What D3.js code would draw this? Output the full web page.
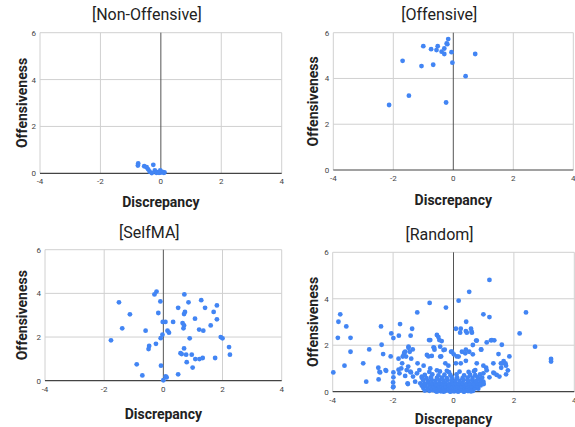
<!DOCTYPE html>
<html>
<head>
<meta charset="utf-8">
<script src="https://cdn.jsdelivr.net/npm/d3@7"></script>
<style>
  body { margin: 0; background: #fff; }
  svg { display: block; font-family: Roboto, "Noto Sans", sans-serif; }
</style>
</head>
<body>
<svg id="chart" width="575" height="427"></svg>
<script>
// data: [discrepancy, offensiveness] pairs
const panelTitles = ['[Non-Offensive]', '[Offensive]', '[SelfMA]', '[Random]'];
const xTicks = [-4, -2, 0, 2, 4];
const yTicks = [0, 2, 4, 6];

const nonOffensive = [
  [-0.75, 0.42], [-0.76, 0.33], [-0.55, 0.3], [-0.47, 0.26], [-0.42, 0.17],
  [-0.37, 0.07], [-0.25, 0.36], [-0.2, 0.12], [-0.12, 0.05], [0, 0.03],
  [0.05, 0.06], [0.1, 0.02], [-0.15, 0.02], [-0.3, 0.01], [-0.02, 0.12],
  [0.12, 0.04], [-0.06, 0.02]
];

const offensive = [
  [-0.17, 5.72], [-0.22, 5.53], [-0.52, 5.41], [-1.0, 5.41], [-0.74, 5.28],
  [-0.56, 5.24], [-0.3, 5.31], [-0.39, 5.17], [-0.3, 5.07], [-0.06, 5.15],
  [0.73, 5.07], [-1.69, 4.77], [-0.03, 4.69], [-0.67, 4.6], [-1.06, 4.54],
  [0.41, 4.1], [-1.48, 3.25], [-0.24, 2.95], [-2.14, 2.84], [-0.2, 5.5]
];

const selfMA = [
  [-0.23, 4.08], [-0.3, 3.95], [0.71, 3.95], [-1.5, 3.59], [-0.1, 3.63],
  [1.28, 3.69], [0.85, 3.59], [1.81, 3.45], [0.5, 3.34], [1.41, 3.34],
  [1.7, 3.15], [0.73, 3.15], [0.7, 3.05], [-1.13, 3.04], [-0.17, 3.1],
  [1.81, 2.81], [1.07, 2.84], [-0.02, 2.69], [0.07, 2.69], [0.33, 2.69],
  [0.65, 2.64], [0.7, 2.53], [1.6, 2.53], [-1.39, 2.4], [0.68, 2.4],
  [1.21, 2.34], [1.35, 2.29], [-0.6, 2.29], [0.14, 2.29], [0.19, 2.2],
  [-0.03, 2.11], [-0.09, 1.95], [0.89, 1.94], [1.94, 2.0], [2.0, 1.94],
  [-1.77, 1.85], [-0.25, 1.69], [-0.48, 1.59], [-0.5, 1.45], [0.7, 1.48],
  [2.22, 1.54], [0.62, 1.22], [0.58, 1.26], [0.77, 1.19], [0.96, 1.19],
  [2.25, 1.19], [1.08, 0.99], [1.22, 0.99], [1.33, 1.04], [1.75, 1.04],
  [0.79, 0.85], [-0.9, 0.75], [-0.08, 0.69], [0.99, 0.6], [-0.71, 0.24],
  [0.5, 0.29], [0.08, 0.2], [0.11, 0.15], [0.0, 0.02]
];

const random = [
  // spread points
  [1.19, 4.81], [0.52, 4.3], [0.17, 3.92], [-0.79, 3.82], [-0.25, 3.62],
  [-1.2, 3.41], [2.4, 3.41], [-3.75, 3.33], [0.99, 3.33], [1.19, 3.21],
  [-3.81, 3.01], [0.42, 3.01], [-1.77, 2.91], [-3.55, 2.81], [-2.4, 2.81],
  [-1.37, 2.71], [0.08, 2.71], [0.24, 2.71], [0.58, 2.71], [0.6, 2.58],
  [0.41, 2.61], [-2.06, 2.51], [2.19, 2.51], [-1.81, 2.41], [-1.42, 2.41],
  [-0.55, 2.44], [-0.5, 2.35], [-0.47, 2.22], [-0.39, 2.18], [-3.83, 2.32],
  [-3.41, 2.32], [-1.99, 2.31], [-0.81, 2.22], [0.77, 2.2], [1.24, 2.21],
  [1.35, 2.21], [1.1, 2.12], [-2.38, 2.02], [1.6, 2.02], [-1.49, 1.89],
  [-2.79, 1.82], [-1.35, 1.82], [-0.64, 1.89], [-0.63, 1.81], [-0.29, 1.81],
  [0.41, 1.81], [0.52, 1.72], [0.64, 1.61], [0.92, 1.81], [-3.41, 1.72],
  [-1.6, 1.72], [-1.45, 1.72], [-0.08, 1.72], [0.01, 1.61], [-2.33, 1.62],
  [-1.64, 1.61], [1.49, 1.62], [1.85, 1.52], [-2.08, 1.52], [-0.83, 1.52],
  [-0.41, 1.52], [0.11, 1.52], [-1.68, 1.51], [-1.4, 1.42], [-1.82, 1.42],
  [0.41, 1.33], [1.66, 1.32], [1.57, 1.22], [1.72, 1.22], [1.32, 1.22],
  [0.77, 1.22], [-2.99, 1.22], [-1.19, 1.22], [-0.17, 1.12], [-3.61, 1.12],
  [0.08, 1.22], [0.24, 1.22], [-2.49, 1.03], [1.08, 1.03], [1.74, 1.12],
  [1.58, 1.03], [-0.99, 1.12], [-2.45, 0.85], [1.8, 0.92], [-3.98, 0.83],
  [-2.25, 0.93], [-1.99, 0.83], [-1.82, 0.95], [-1.55, 0.93], [-1.41, 0.83],
  [1.35, 0.79], [1.74, 0.75], [1.1, 0.92], [0.72, 0.93], [-1.99, 0.62],
  [-2.48, 0.53], [-2.89, 0.43], [-1.51, 0.33], [-1.99, 0.22], [0.99, 0.43],
  [1.43, 0.72], [-0.55, 0.92], [-0.77, 1.0], [2.7, 1.94], [3.23, 1.41],
  [3.23, 1.3], [0.22, 2.54], [0.44, 2.54], [0.61, 2.54], [0.75, 2.2],
  [1.27, 2.22], [0.64, 2.01], [0.91, 1.82], [1.62, 1.22], [0.99, 1.12],
  [0.39, 1.65], [0.17, 1.51], [0.28, 1.72], [-0.05, 1.72], [1.52, 0.65],
  [1.32, 0.82], [1.19, 0.62], [0.99, 0.79], [-1.63, 1.68], [-1.49, 1.94],
  [-1.57, 1.51], [-1.7, 1.22], [-1.73, 1.0], [-1.5, 1.08], [-1.79, 0.79],
  [-1.6, 0.68], [-1.43, 0.86], [-1.52, 0.36], [-1.34, 0.65], [-1.27, 0.43],
  [-1.13, 0.93], [-1.21, 0.79], [-1.05, 0.65], [-1.01, 0.29], [-0.88, 1.58],
  [-0.77, 2.22], [-0.44, 1.94], [-0.66, 1.91], [-0.72, 1.54], [-0.44, 1.51],
  [-0.33, 1.79], [-0.27, 1.22], [-0.22, 0.9], [-2.43, 0.83], [-2.23, 0.9],
  [-2.0, 0.4], [-2.0, 0.19],
  // dense cluster near the origin
  [-0.95, 0.05], [-0.8, 0.04], [-0.7, 0.07], [-0.6, 0.03], [-0.5, 0.06],
  [-0.42, 0.02], [-0.35, 0.05], [-0.28, 0.03], [-0.2, 0.06], [-0.12, 0.02],
  [-0.05, 0.04], [0.02, 0.01], [0.1, 0.05], [0.18, 0.03], [0.25, 0.06],
  [0.33, 0.02], [0.4, 0.05], [0.48, 0.03], [0.55, 0.07], [0.65, 0.04],
  [-1.0, 0.16], [-0.85, 0.13], [-0.72, 0.17], [-0.62, 0.14], [-0.53, 0.16],
  [-0.45, 0.12], [-0.37, 0.17], [-0.3, 0.14], [-0.22, 0.15], [-0.15, 0.12],
  [-0.08, 0.16], [0.0, 0.13], [0.07, 0.17], [0.14, 0.12], [0.22, 0.15],
  [0.3, 0.14], [0.38, 0.17], [0.46, 0.13], [0.55, 0.16], [0.63, 0.12],
  [0.72, 0.15], [0.82, 0.13], [-1.05, 0.26], [-0.92, 0.24], [-0.78, 0.27],
  [-0.66, 0.23], [-0.57, 0.26], [-0.48, 0.24], [-0.4, 0.27], [-0.32, 0.22],
  [-0.25, 0.25], [-0.17, 0.27], [-0.1, 0.23], [-0.02, 0.26], [0.05, 0.24],
  [0.12, 0.27], [0.2, 0.23], [0.28, 0.25], [0.36, 0.27], [0.44, 0.24],
  [0.52, 0.26], [0.6, 0.23], [0.7, 0.26], [0.8, 0.24], [0.9, 0.27],
  [-1.1, 0.36], [-0.95, 0.34], [-0.82, 0.37], [-0.7, 0.35], [-0.58, 0.33],
  [-0.47, 0.37], [-0.36, 0.34], [-0.26, 0.36], [-0.14, 0.33], [-0.04, 0.37],
  [0.08, 0.35], [0.18, 0.34], [0.3, 0.37], [0.42, 0.33], [0.54, 0.36],
  [0.66, 0.34], [0.78, 0.37], [0.9, 0.35], [1.0, 0.33], [-1.0, 0.48],
  [-0.85, 0.46], [-0.72, 0.5], [-0.6, 0.47], [-0.46, 0.49], [-0.33, 0.46],
  [-0.2, 0.5], [-0.07, 0.47], [0.06, 0.49], [0.2, 0.46], [0.34, 0.5],
  [0.48, 0.47], [0.62, 0.49], [0.75, 0.46], [0.88, 0.5], [-1.05, 0.6],
  [-0.9, 0.58], [-0.75, 0.62], [-0.55, 0.59], [-0.38, 0.61], [-0.22, 0.58],
  [-0.05, 0.62], [0.12, 0.6], [0.3, 0.58], [0.47, 0.61], [0.63, 0.59],
  [0.8, 0.62], [0.95, 0.6], [-0.95, 0.72], [-0.7, 0.74], [-0.5, 0.7],
  [-0.3, 0.73], [-0.1, 0.71], [0.1, 0.74], [0.35, 0.7], [0.55, 0.73],
  [0.72, 0.71], [0.88, 0.74], [-0.8, 0.85], [-0.45, 0.87], [-0.15, 0.84],
  [0.2, 0.86], [0.5, 0.85], [0.68, 0.88], [-0.33, 0.0], [-0.1, 0.0],
  [0.15, 0.0], [0.35, 0.0], [-0.55, 0.0], [0.58, 0.01]
];

const panels = [
  {title: panelTitles[0], data: nonOffensive, x0: 40, x1: 281.7, y0: 173.3, y1: 32.7,
   titleY: 20, xLabelY: 207, yLabelX: 22},
  {title: panelTitles[1], data: offensive, x0: 333.3, x1: 573.3, y0: 170, y1: 32.7,
   titleY: 20, xLabelY: 205, yLabelX: 313},
  {title: panelTitles[2], data: selfMA, x0: 45, x1: 281.7, y0: 380.7, y1: 249.7,
   titleY: 238, xLabelY: 419, yLabelX: 22},
  {title: panelTitles[3], data: random, x0: 332.7, x1: 574.3, y0: 391.7, y1: 252.3,
   titleY: 240, xLabelY: 424, yLabelX: 313}
];

const svg = d3.select('#chart');

function drawPanel(p) {
  const x = d3.scaleLinear().domain([-4, 4]).range([p.x0, p.x1]);
  const y = d3.scaleLinear().domain([0, 6]).range([p.y0, p.y1]);
  const g = svg.append('g');

  // grid
  g.selectAll('.vgrid')
   .data(xTicks.filter((d) => d !== 0))
   .enter()
   .append('line')
   .attr('x1', (d) => x(d)).attr('x2', (d) => x(d))
   .attr('y1', y(0)).attr('y2', y(6))
   .attr('stroke', '#d0d0d0').attr('stroke-width', 1);
  g.selectAll('.hgrid')
   .data(yTicks.filter((d) => d !== 0))
   .enter()
   .append('line')
   .attr('x1', x(-4)).attr('x2', x(4))
   .attr('y1', (d) => y(d)).attr('y2', (d) => y(d))
   .attr('stroke', '#d0d0d0').attr('stroke-width', 1);

  // zero lines
  g.append('line')
   .attr('x1', x(0)).attr('x2', x(0))
   .attr('y1', y(0)).attr('y2', y(6))
   .attr('stroke', '#555').attr('stroke-width', 1);
  g.append('line')
   .attr('x1', x(-4)).attr('x2', x(4))
   .attr('y1', y(0)).attr('y2', y(0))
   .attr('stroke', '#444').attr('stroke-width', 1.2);

  // tick labels
  g.selectAll('.xt')
   .data(xTicks)
   .enter()
   .append('text')
   .attr('x', (d) => x(d))
   .attr('y', y(0) + 11)
   .attr('text-anchor', 'middle')
   .attr('font-size', 8)
   .attr('fill', '#444')
   .text((d) => d);
  g.selectAll('.yt')
   .data(yTicks)
   .enter()
   .append('text')
   .attr('x', x(-4) - 4)
   .attr('y', (d) => y(d) + 3)
   .attr('text-anchor', 'end')
   .attr('font-size', 8)
   .attr('fill', '#444')
   .text((d) => d);

  // points
  g.selectAll('circle')
   .data(p.data)
   .enter()
   .append('circle')
   .attr('cx', (d) => x(d[0]))
   .attr('cy', (d) => y(d[1]))
   .attr('r', 2.4)
   .attr('fill', '#4285f4');

  // titles
  const cx = (p.x0 + p.x1) / 2;
  g.append('text')
   .attr('x', cx - 14)
   .attr('y', p.titleY)
   .attr('text-anchor', 'middle')
   .attr('font-size', 16)
   .attr('fill', '#222')
   .text(p.title);
  g.append('text')
   .attr('x', x(0))
   .attr('y', p.xLabelY)
   .attr('text-anchor', 'middle')
   .attr('font-size', 14)
   .attr('font-weight', 'bold')
   .attr('fill', '#222')
   .text('Discrepancy');
  g.append('text')
   .attr('transform', 'translate(' + (p.yLabelX + 5) + ',' + ((p.y0 + p.y1) / 2) + ') rotate(-90)')
   .attr('text-anchor', 'middle')
   .attr('font-size', 14)
   .attr('font-weight', 'bold')
   .attr('fill', '#222')
   .text('Offensiveness');
}

panels.forEach(drawPanel);
</script>
</body>
</html>
